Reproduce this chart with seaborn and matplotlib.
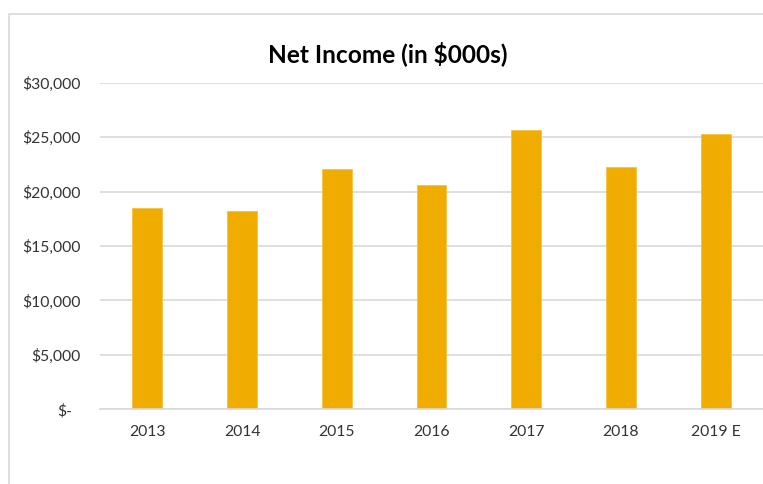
import matplotlib
matplotlib.use("Agg")
import matplotlib.pyplot as plt
import matplotlib.transforms as mtransforms
from matplotlib.patches import Rectangle
from matplotlib.ticker import FuncFormatter
import seaborn as sns
import pandas as pd

years = ["2013", "2014", "2015", "2016", "2017", "2018", "2019 E"]
net_income = [18500, 18200, 22050, 20600, 25700, 22250, 25250]
y_ticks = [0, 5000, 10000, 15000, 20000, 25000, 30000]
title = "Net Income (in $000s)"

df = pd.DataFrame({"Year": years, "NetIncome": net_income})

sns.set_theme(style="white")
plt.rcParams["font.family"] = ["Lato", "DejaVu Sans"]

W, H = 763, 484
fig = plt.figure(figsize=(W / 100, H / 100), dpi=100)
ax = fig.add_axes([100 / W, (H - 409.3) / H, (W - 100) / W, (409.3 - 82.7) / H])

sns.barplot(data=df, x="Year", y="NetIncome", color="#F0AC00", width=0.316,
            saturation=1, edgecolor="#F5C342", linewidth=0.6, ax=ax)

ax.set_ylim(0, 30000)
ax.set_xlim(-0.5, len(years) - 0.5)
ax.set_yticks(y_ticks)
ax.yaxis.set_major_formatter(FuncFormatter(lambda v, p: "$-" if v == 0 else f"${v:,.0f}"))
ax.grid(axis="y", color="#D9D9D9", linewidth=1.2)
ax.set_axisbelow(True)
for s in ["top", "right", "left"]:
    ax.spines[s].set_visible(False)
ax.spines["bottom"].set_color("#D9D9D9")
ax.spines["bottom"].set_linewidth(1.2)
ax.set_xlabel("")
ax.set_ylabel("")
ax.tick_params(axis="y", length=0, pad=14, labelsize=11.3, labelcolor="#333333")
ax.tick_params(axis="x", length=0, pad=11, labelsize=11.3, labelcolor="#333333")

# shift "$-" label like Excel accounting format
lab0 = ax.get_yticklabels()[0]
lab0.set_transform(lab0.get_transform() + mtransforms.ScaledTranslation(-8 / 100, 0, fig.dpi_scale_trans))

fig.text(388 / W, 1 - 54 / H, title, ha="center", va="center",
         fontsize=17.6, fontweight="bold", color="#000000")

fig.patches.append(Rectangle((8.5 / W, -0.1), 1.2, 1.1 - 14.5 / H,
                             transform=fig.transFigure, fill=False,
                             edgecolor="#D9D9D9", linewidth=1.2))

fig.savefig("out.png", dpi=100)
